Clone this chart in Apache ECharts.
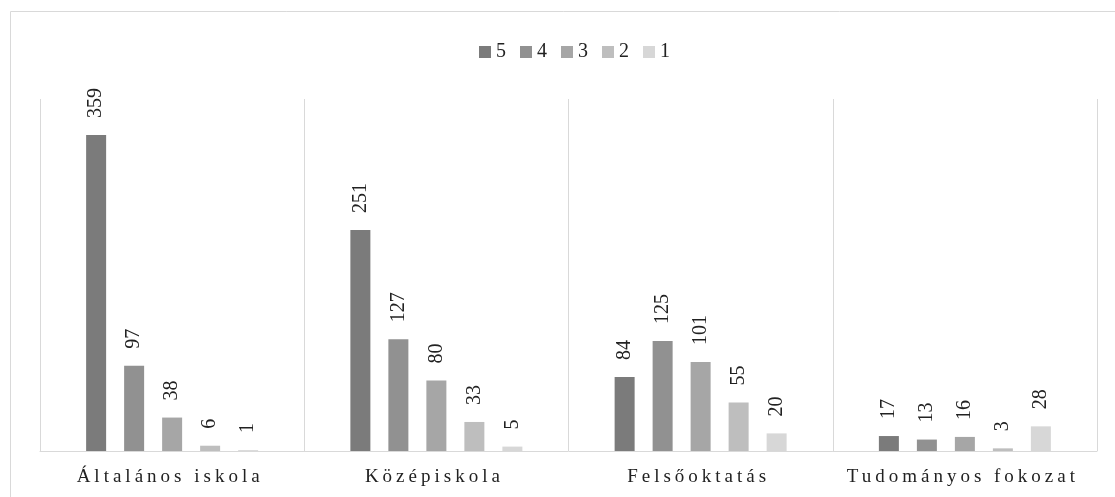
<!DOCTYPE html>
<html>
<head>
<meta charset="utf-8">
<script src="https://cdn.jsdelivr.net/npm/echarts@6/dist/echarts.min.js"></script>
<style>
html,body{margin:0;padding:0;background:#fff;}
#chart{width:1115px;height:497px;}
</style>
</head>
<body>
<div id="chart"></div>
<script>
const categories = ['Általános iskola', 'Középiskola', 'Felsőoktatás', 'Tudományos fokozat'];
const seriesNames = ['5', '4', '3', '2', '1'];
const s5 = [359, 251, 84, 17];
const s4 = [97, 127, 125, 13];
const s3 = [38, 80, 101, 16];
const s2 = [6, 33, 55, 3];
const s1 = [1, 5, 20, 28];
const seriesData = [s5, s4, s3, s2, s1];
const colors = ['#7b7b7b', '#919191', '#a6a6a6', '#bebebe', '#d7d7d7'];

// letter-spaced category labels (drawn at 19px)
(function () {
  const proto = CanvasRenderingContext2D.prototype;
  const orig = proto.fillText;
  if ('letterSpacing' in proto) {
    proto.fillText = function (t, x, y, m) {
      if (/\b19px\b/.test(this.font)) {
        const f = this.font;
        this.save();
        this.letterSpacing = '4px';
        this.font = f;
        const dx = this.textAlign === 'center' ? -2 : 0;
        m === undefined ? orig.call(this, t, x + dx, y) : orig.call(this, t, x + dx, y, m);
        this.restore();
        this.letterSpacing = '0px';
        this.font = f;
      } else {
        m === undefined ? orig.call(this, t, x, y) : orig.call(this, t, x, y, m);
      }
    };
  }
})();

const chart = echarts.init(document.getElementById('chart'), null, {renderer: 'canvas'});
const font = 'Liberation Serif';
chart.setOption({
  animation: false,
  color: colors,
  graphic: [{
    type: 'rect', silent: true, z: -1,
    shape: {x: 10.5, y: 11.5, width: 1200, height: 600},
    style: {fill: 'none', stroke: '#d9d9d9', lineWidth: 1}
  }],
  legend: {
    data: seriesNames,
    left: 474, top: 37,
    itemWidth: 12, itemHeight: 12, itemGap: 14,
    icon: 'rect',
    textStyle: {fontFamily: font, fontSize: 20, color: '#222'}
  },
  grid: {left: 40, right: 18, top: 99, bottom: 46, containLabel: false},
  xAxis: {
    type: 'category',
    data: categories,
    axisLine: {lineStyle: {color: '#d9d9d9', width: 1}},
    axisTick: {show: false},
    splitLine: {show: true, lineStyle: {color: '#d9d9d9', width: 1}},
    axisLabel: {fontFamily: font, fontSize: 19, color: '#222', margin: 17}
  },
  yAxis: {
    type: 'value', min: 0, max: 400,
    show: false
  },
  series: seriesNames.map((n, i) => ({
    name: n,
    type: 'bar',
    data: seriesData[i],
    barWidth: 20,
    barGap: '90%',
    label: {
      show: true,
      position: 'top',
      rotate: 90,
      align: 'left',
      verticalAlign: 'middle',
      distance: 17,
      fontFamily: font,
      fontSize: 20,
      color: '#222'
    }
  }))
});
</script>
</body>
</html>
